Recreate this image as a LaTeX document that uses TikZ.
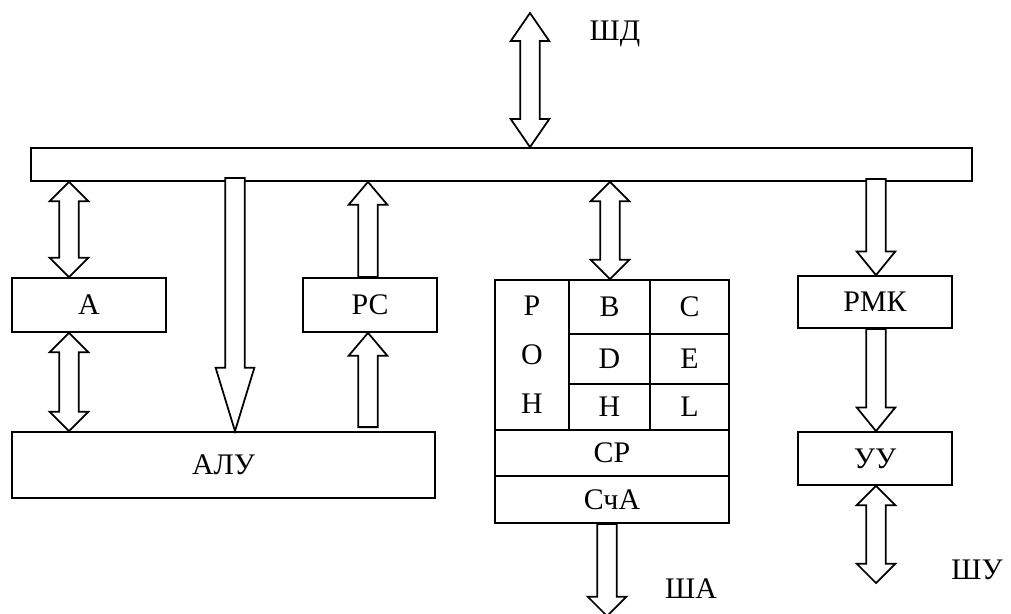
\documentclass[tikz,border=0pt]{standalone}
\usepackage{fontspec}
\setmainfont{Liberation Serif}
\usetikzlibrary{calc}

\tikzset{
  box/.style={draw, rectangle, line width=1pt, fill=white, inner sep=0pt},
  lbl/.style={inner sep=0pt},
  % hollow bus arrows, #1 = head length
  oneway/.style={to path={let \p1=(\tikztostart), \p2=(\tikztotarget),
      \n1={(\y2-\y1)/abs(\y2-\y1)} in
      ({\x1-5.5pt},\y1) -- ({\x1-5.5pt},{\y2-\n1*#1}) -- ({\x1-11pt},{\y2-\n1*#1})
      -- (\x1,\y2) -- ({\x1+11pt},{\y2-\n1*#1}) -- ({\x1+5.5pt},{\y2-\n1*#1})
      -- ({\x1+5.5pt},\y1) -- cycle}},
  twoway/.style={to path={let \p1=(\tikztostart), \p2=(\tikztotarget),
      \n1={(\y2-\y1)/abs(\y2-\y1)} in
      (\x1,\y1) -- ({\x1-11pt},{\y1+\n1*#1}) -- ({\x1-5.5pt},{\y1+\n1*#1})
      -- ({\x1-5.5pt},{\y2-\n1*#1}) -- ({\x1-11pt},{\y2-\n1*#1}) -- (\x1,\y2)
      -- ({\x1+11pt},{\y2-\n1*#1}) -- ({\x1+5.5pt},{\y2-\n1*#1})
      -- ({\x1+5.5pt},{\y1+\n1*#1}) -- ({\x1+11pt},{\y1+\n1*#1}) -- cycle}}
}

\begin{document}
\begin{tikzpicture}[x=0.2mm, y=-0.2mm, line width=1pt, font=\fontsize{17pt}{20pt}\selectfont]
  \useasboundingbox (0,0) rectangle (1011,614);

  % blocks
  \node[box, minimum width=188.2mm, minimum height=6.6mm] (bus) at (501.5,164.5) {};
  \node[box, minimum width=30.8mm, minimum height=10.8mm] (regA) at (89,305) {A};
  \node[box, minimum width=26.8mm, minimum height=10.8mm] (rs) at (370,305) {РС};
  \node[box, minimum width=84.6mm, minimum height=13.2mm] (alu) at (223.5,465) {АЛУ};
  \node[box, minimum width=30.8mm, minimum height=10.4mm] (rmk) at (875,302) {РМК};
  \node[box, minimum width=30.8mm, minimum height=10.6mm] (uu) at (875,458.5) {УУ};

  % register file
  \node[box, minimum width=14.8mm, minimum height=30mm, align=center,
        font=\fontsize{17pt}{28pt}\selectfont] (ron) at (532,355) {Р\\О\\Н};
  \node[box, minimum width=16.2mm, minimum height=10.8mm] (rb) at (609.5,307) {B};
  \node[box, minimum width=15.8mm, minimum height=10.8mm] (rc) at (689.5,307) {C};
  \node[box, minimum width=16.2mm, minimum height=10mm] (rd) at (609.5,359) {D};
  \node[box, minimum width=15.8mm, minimum height=10mm] (re) at (689.5,359) {E};
  \node[box, minimum width=16.2mm, minimum height=9.2mm] (rh) at (609.5,407) {H};
  \node[box, minimum width=15.8mm, minimum height=9.2mm] (rl) at (689.5,407) {L};
  \node[box, minimum width=46.8mm, minimum height=9.2mm] (sr) at (612,453) {СР};
  \node[box, minimum width=46.8mm, minimum height=9.4mm] (sca) at (612,499.5) {СчА};

  % bus labels
  \node[lbl] (shd) at (615,34) {ШД};
  \node[lbl] (sha) at (691,589) {ША};
  \node[lbl] (shu) at (977,570) {ШУ};

  \coordinate (xd) at (530,0);
  \coordinate (xa) at (69,0);
  \coordinate (xb) at (235,0);
  \coordinate (xp) at (368,0);
  \coordinate (xr) at (610,0);
  \coordinate (xs) at (607,0);
  \coordinate (xm) at (876,0);
  \coordinate (shdend) at (530,13);
  \coordinate (shaend) at (607,616);
  \coordinate (shuend) at (876,583);

  % arrows
  \draw[twoway=16pt, fill=white] (shdend) to (bus.north -| xd);
  \draw[twoway=11pt, fill=white] (bus.south -| xa) to (regA.north -| xa);
  \draw[twoway=11pt, fill=white] (regA.south -| xa) to (alu.north -| xa);
  \draw[oneway=36pt, fill=white] ($(bus.south -| xb)+(0,-4)$) to (alu.north -| xb);
  \draw[oneway=13pt, fill=white] (rs.north -| xp) to (bus.south -| xp);
  \draw[oneway=13pt, fill=white] ($(alu.north -| xp)+(0,-4)$) to (rs.south -| xp);
  \draw[twoway=11pt, fill=white] (bus.south -| xr) to (rb.north -| xr);
  \draw[oneway=11pt, fill=white] (sca.south -| xs) to (shaend);
  \draw[oneway=13.5pt, fill=white] ($(bus.south -| xm)+(0,-3)$) to (rmk.north -| xm);
  \draw[oneway=13.5pt, fill=white] (rmk.south -| xm) to (uu.north -| xm);
  \draw[twoway=11pt, fill=white] (uu.south -| xm) to (shuend);
\end{tikzpicture}
\end{document}
